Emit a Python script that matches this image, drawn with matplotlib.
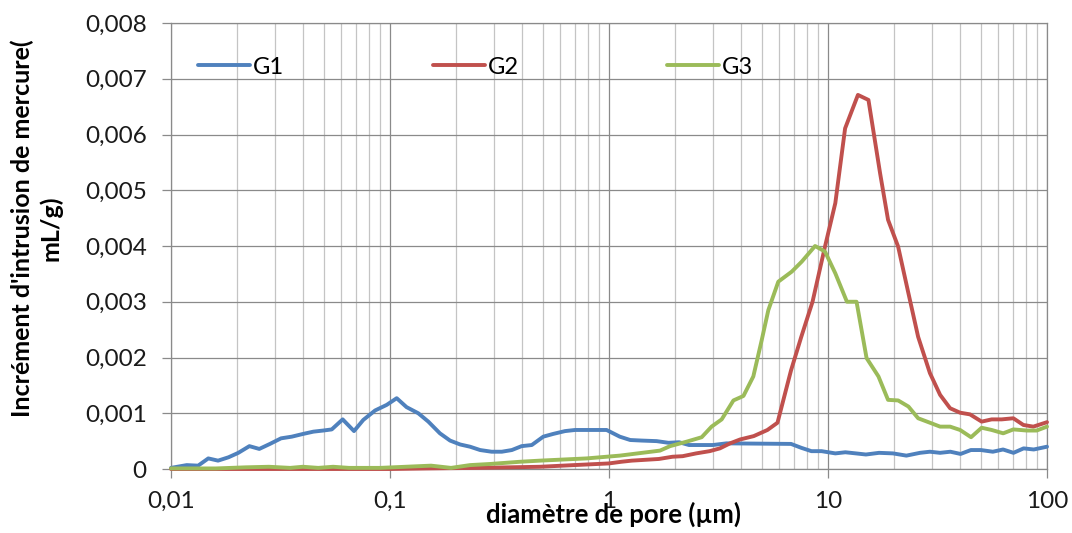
import matplotlib
matplotlib.use('Agg')
import matplotlib.pyplot as plt
from matplotlib.ticker import LogLocator, NullFormatter

# diamètre de pore (µm) et incrément d'intrusion (mL/g)
g1_x = [0.01, 0.0118, 0.0133, 0.0148, 0.0164, 0.0183, 0.0203, 0.0228, 0.0253, 0.0283,
        0.0318, 0.0356, 0.0402, 0.0447, 0.0496, 0.0542, 0.0608, 0.0685, 0.0755, 0.0855,
        0.0966, 0.1073, 0.119, 0.1346, 0.1496, 0.169, 0.188, 0.209, 0.232, 0.258,
        0.291, 0.324, 0.36, 0.399, 0.444, 0.501, 0.557, 0.63, 0.70, 0.791,
        0.879, 0.975, 1.12, 1.25, 1.41, 1.65, 1.87, 2.09, 2.32, 2.98,
        3.44, 6.78, 7.55, 8.4, 9.35, 10.8, 12.0, 13.4, 14.9, 17.1,
        19.8, 22.8, 26.3, 29.2, 32.5, 36.2, 40.3, 44.9, 49.9, 56.6,
        63.0, 70.3, 78.2, 87.0, 100]
g1_y = [0.00002, 0.00007, 0.00006, 0.00019, 0.00015, 0.00021, 0.00029, 0.00041, 0.00036, 0.00045,
        0.00055, 0.00058, 0.00063, 0.00067, 0.00069, 0.00071, 0.00089, 0.00068, 0.00088, 0.00105,
        0.00115, 0.00127, 0.00111, 0.00100, 0.00085, 0.00064, 0.00051, 0.00044, 0.00040, 0.00034,
        0.00031, 0.00031, 0.00034, 0.00041, 0.00043, 0.00058, 0.00063, 0.00068, 0.00070, 0.00070,
        0.00070, 0.00070, 0.00058, 0.00052, 0.00051, 0.00050, 0.00047, 0.00048, 0.00043, 0.00043,
        0.00046, 0.00045, 0.00038, 0.00032, 0.00032, 0.00028, 0.00030, 0.00028, 0.00026, 0.00029,
        0.00028, 0.00024, 0.00029, 0.00031, 0.00029, 0.00031, 0.00027, 0.00034, 0.00034, 0.00031,
        0.00035, 0.00029, 0.00037, 0.00035, 0.00040]

g2_x = [0.01, 0.02, 0.05, 0.1, 0.15, 0.25, 0.35, 0.484, 0.692, 1.0,
        1.14, 1.27, 1.69, 1.95, 2.17, 2.50, 2.88, 3.21, 3.57, 3.97,
        4.58, 5.29, 5.88, 6.78, 7.55, 8.5, 9.69, 10.8, 11.97, 13.7,
        15.3, 17.3, 18.8, 20.9, 23.3, 25.8, 29.2, 32.5, 36.1, 40.1,
        44.5, 50.3, 55.9, 62.1, 70.2, 78.0, 86.6, 100]
g2_y = [0, 0, 0, 0, 0.00001, 0.00002, 0.00003, 0.00004, 0.00007, 0.00010,
        0.00013, 0.00015, 0.00018, 0.00022, 0.00023, 0.00028, 0.00032, 0.00037, 0.00046, 0.00053,
        0.00059, 0.00070, 0.00083, 0.00177, 0.00237, 0.00300, 0.00399, 0.00477, 0.00611, 0.00671,
        0.00662, 0.00530, 0.00447, 0.00399, 0.00315, 0.00237, 0.00172, 0.00133, 0.00109, 0.00101,
        0.00098, 0.00085, 0.00089, 0.00089, 0.00091, 0.00079, 0.00076, 0.00084]

g3_x = [0.01, 0.016, 0.022, 0.028, 0.035, 0.04, 0.047, 0.055, 0.065, 0.09,
        0.154, 0.19, 0.232, 0.286, 0.393, 0.484, 0.618, 0.791, 1.12, 1.71,
        1.90, 2.26, 2.65, 2.94, 3.27, 3.70, 4.11, 4.56, 4.98, 5.34,
        5.93, 6.83, 7.59, 8.73, 9.69, 10.8, 12.2, 13.5, 15.0, 17.0,
        18.8, 20.9, 23.3, 25.8, 29.2, 32.5, 36.1, 40.1, 45.0, 50.3,
        55.9, 63.1, 70.2, 80.8, 89.7, 100]
g3_y = [0.00001, 0.00001, 0.00003, 0.00004, 0.00002, 0.00004, 0.00002, 0.00004, 0.00002, 0.00002,
        0.00006, 0.00002, 0.00007, 0.00009, 0.00013, 0.00015, 0.00017, 0.00019, 0.00024, 0.00033,
        0.00041, 0.00049, 0.00057, 0.00076, 0.00089, 0.00123, 0.00131, 0.00166, 0.00231, 0.00285,
        0.00336, 0.00354, 0.00372, 0.00400, 0.00390, 0.00351, 0.00300, 0.00300, 0.00199, 0.00166,
        0.00124, 0.00123, 0.00112, 0.00091, 0.00083, 0.00076, 0.00076, 0.00070, 0.00057, 0.00074,
        0.00070, 0.00064, 0.00071, 0.00069, 0.00069, 0.00076]

x_ticks = [0.01, 0.1, 1, 10, 100]
x_tick_labels = ['0,01', '0,1', '1', '10', '100']
y_ticks = [0, 0.001, 0.002, 0.003, 0.004, 0.005, 0.006, 0.007, 0.008]
y_tick_labels = ['0', '0,001', '0,002', '0,003', '0,004', '0,005', '0,006', '0,007', '0,008']

plt.rcParams['font.family'] = ['Lato', 'DejaVu Sans']

W, H = 1072, 533
fig = plt.figure(figsize=(W / 100, H / 100), dpi=100)
ax = fig.add_axes([171 / W, 1 - 469 / H, (1047 - 171) / W, (469 - 23) / H])

for xs, ys, col, lab in [(g1_x, g1_y, '#4f81bd', 'G1'),
                         (g2_x, g2_y, '#c0504d', 'G2'),
                         (g3_x, g3_y, '#9bbb59', 'G3')]:
    ax.plot(xs, ys, color=col, lw=2.8, label=lab, clip_on=False,
            solid_joinstyle='round', solid_capstyle='round', zorder=3)

ax.set_xscale('log')
ax.set_xlim(0.01, 100)
ax.set_ylim(0, 0.008)
ax.set_xticks(x_ticks)
ax.set_xticklabels(x_tick_labels)
ax.set_yticks(y_ticks)
ax.set_yticklabels(y_tick_labels)
ax.xaxis.set_minor_locator(LogLocator(base=10, subs=range(2, 10)))
ax.xaxis.set_minor_formatter(NullFormatter())

ax.set_axisbelow(True)
ax.grid(which='major', color='#8a8a8a', lw=0.9)
ax.grid(which='minor', axis='x', color='#c4c4c4', lw=0.9)
for s in ax.spines.values():
    s.set_color('#8a8a8a')
    s.set_linewidth(0.9)
ax.tick_params(which='major', length=6.5, width=0.9, color='#8a8a8a',
               labelsize=17.5, labelcolor='#1a1a1a')
ax.tick_params(axis='y', pad=11)
ax.tick_params(axis='x', pad=9)
ax.tick_params(which='minor', length=0)

ax.legend(ncol=3, loc='center left', bbox_to_anchor=(198 / W, 1 - 67 / H),
          bbox_transform=fig.transFigure, frameon=False, fontsize=17,
          handlelength=2.2, handletextpad=0.12, columnspacing=6.3,
          borderpad=0, borderaxespad=0)

fig.text(37 / W, 1 - 228 / H, "Incrément d'intrusion de mercure(\nmL/g)",
         rotation=90, ha='center', va='center', multialignment='center',
         fontsize=18, fontweight='bold', linespacing=1.25)
fig.text(614 / W, 1 - 523 / H, 'diamètre de pore (µm)', ha='center', va='baseline',
         fontsize=18.5, fontweight='bold')

fig.savefig('out.png', dpi=100)
